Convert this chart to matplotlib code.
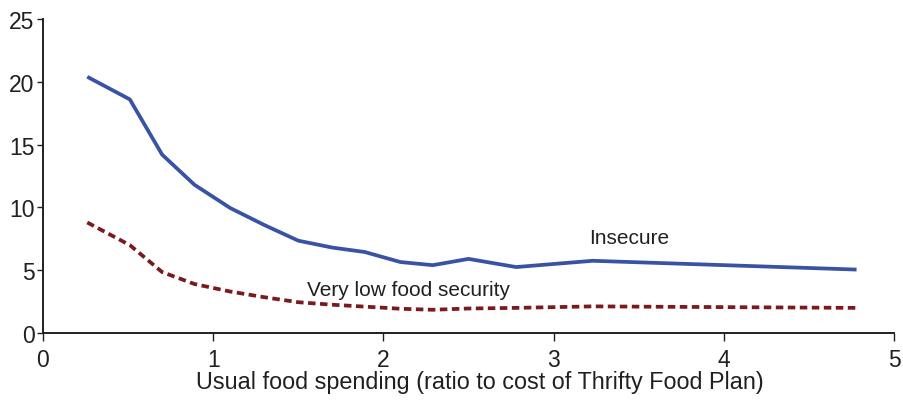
import matplotlib
matplotlib.use("Agg")
import matplotlib.pyplot as plt

# Data
spending = [0.26, 0.51, 0.70, 0.89, 1.10, 1.30, 1.50, 1.70, 1.89, 2.10, 2.29, 2.50, 2.78, 3.23, 4.78]
insecure = [20.4, 18.6, 14.2, 11.8, 9.95, 8.6, 7.35, 6.8, 6.45, 5.65, 5.4, 5.9, 5.25, 5.75, 5.05]
very_low = [8.8, 7.0, 4.85, 3.9, 3.3, 2.85, 2.45, 2.25, 2.1, 1.93, 1.85, 1.95, 2.0, 2.12, 2.0]

x_ticks = [0, 1, 2, 3, 4, 5]
y_ticks = [0, 5, 10, 15, 20, 25]

plt.rcParams['font.family'] = ['Liberation Sans', 'DejaVu Sans']

fig = plt.figure(figsize=(9.04, 4.02), dpi=100)
ax = fig.add_axes([43 / 904, 68 / 402, 851 / 904, 314 / 402])

ax.plot(spending, insecure, color='#3953a4', lw=2.7, solid_capstyle='butt')
ax.plot(spending, very_low, color='#7a1a1c', lw=2.7, linestyle=(0, (2.0, 1.2)),
        dash_capstyle='butt')

ax.text(3.21, 7.6, 'Insecure', fontsize=15, color='#231f20', va='center', ha='left')
ax.text(1.55, 3.5, 'Very low food security', fontsize=15, color='#231f20',
        va='center', ha='left')

ax.set_xlim(0, 5)
ax.set_ylim(0, 25)
ax.set_xticks(x_ticks)
ax.set_yticks(y_ticks)
ax.tick_params(axis='x', direction='out', length=6, width=1, labelsize=16.5,
               pad=5, colors='#231f20')
ax.tick_params(axis='y', direction='out', length=4, width=1, labelsize=16.5,
               pad=2, colors='#231f20')
ax.set_xlabel('Usual food spending (ratio to cost of Thrifty Food Plan)',
              fontsize=16.8, color='#231f20', labelpad=0)
ax.xaxis.set_label_coords(0.513, -0.156)
ax.xaxis.label.set_va('center')

for side in ['top', 'right']:
    ax.spines[side].set_visible(False)
for side in ['left', 'bottom']:
    ax.spines[side].set_linewidth(1.4)
    ax.spines[side].set_color('#231f20')

fig.savefig('out.png', dpi=100)
